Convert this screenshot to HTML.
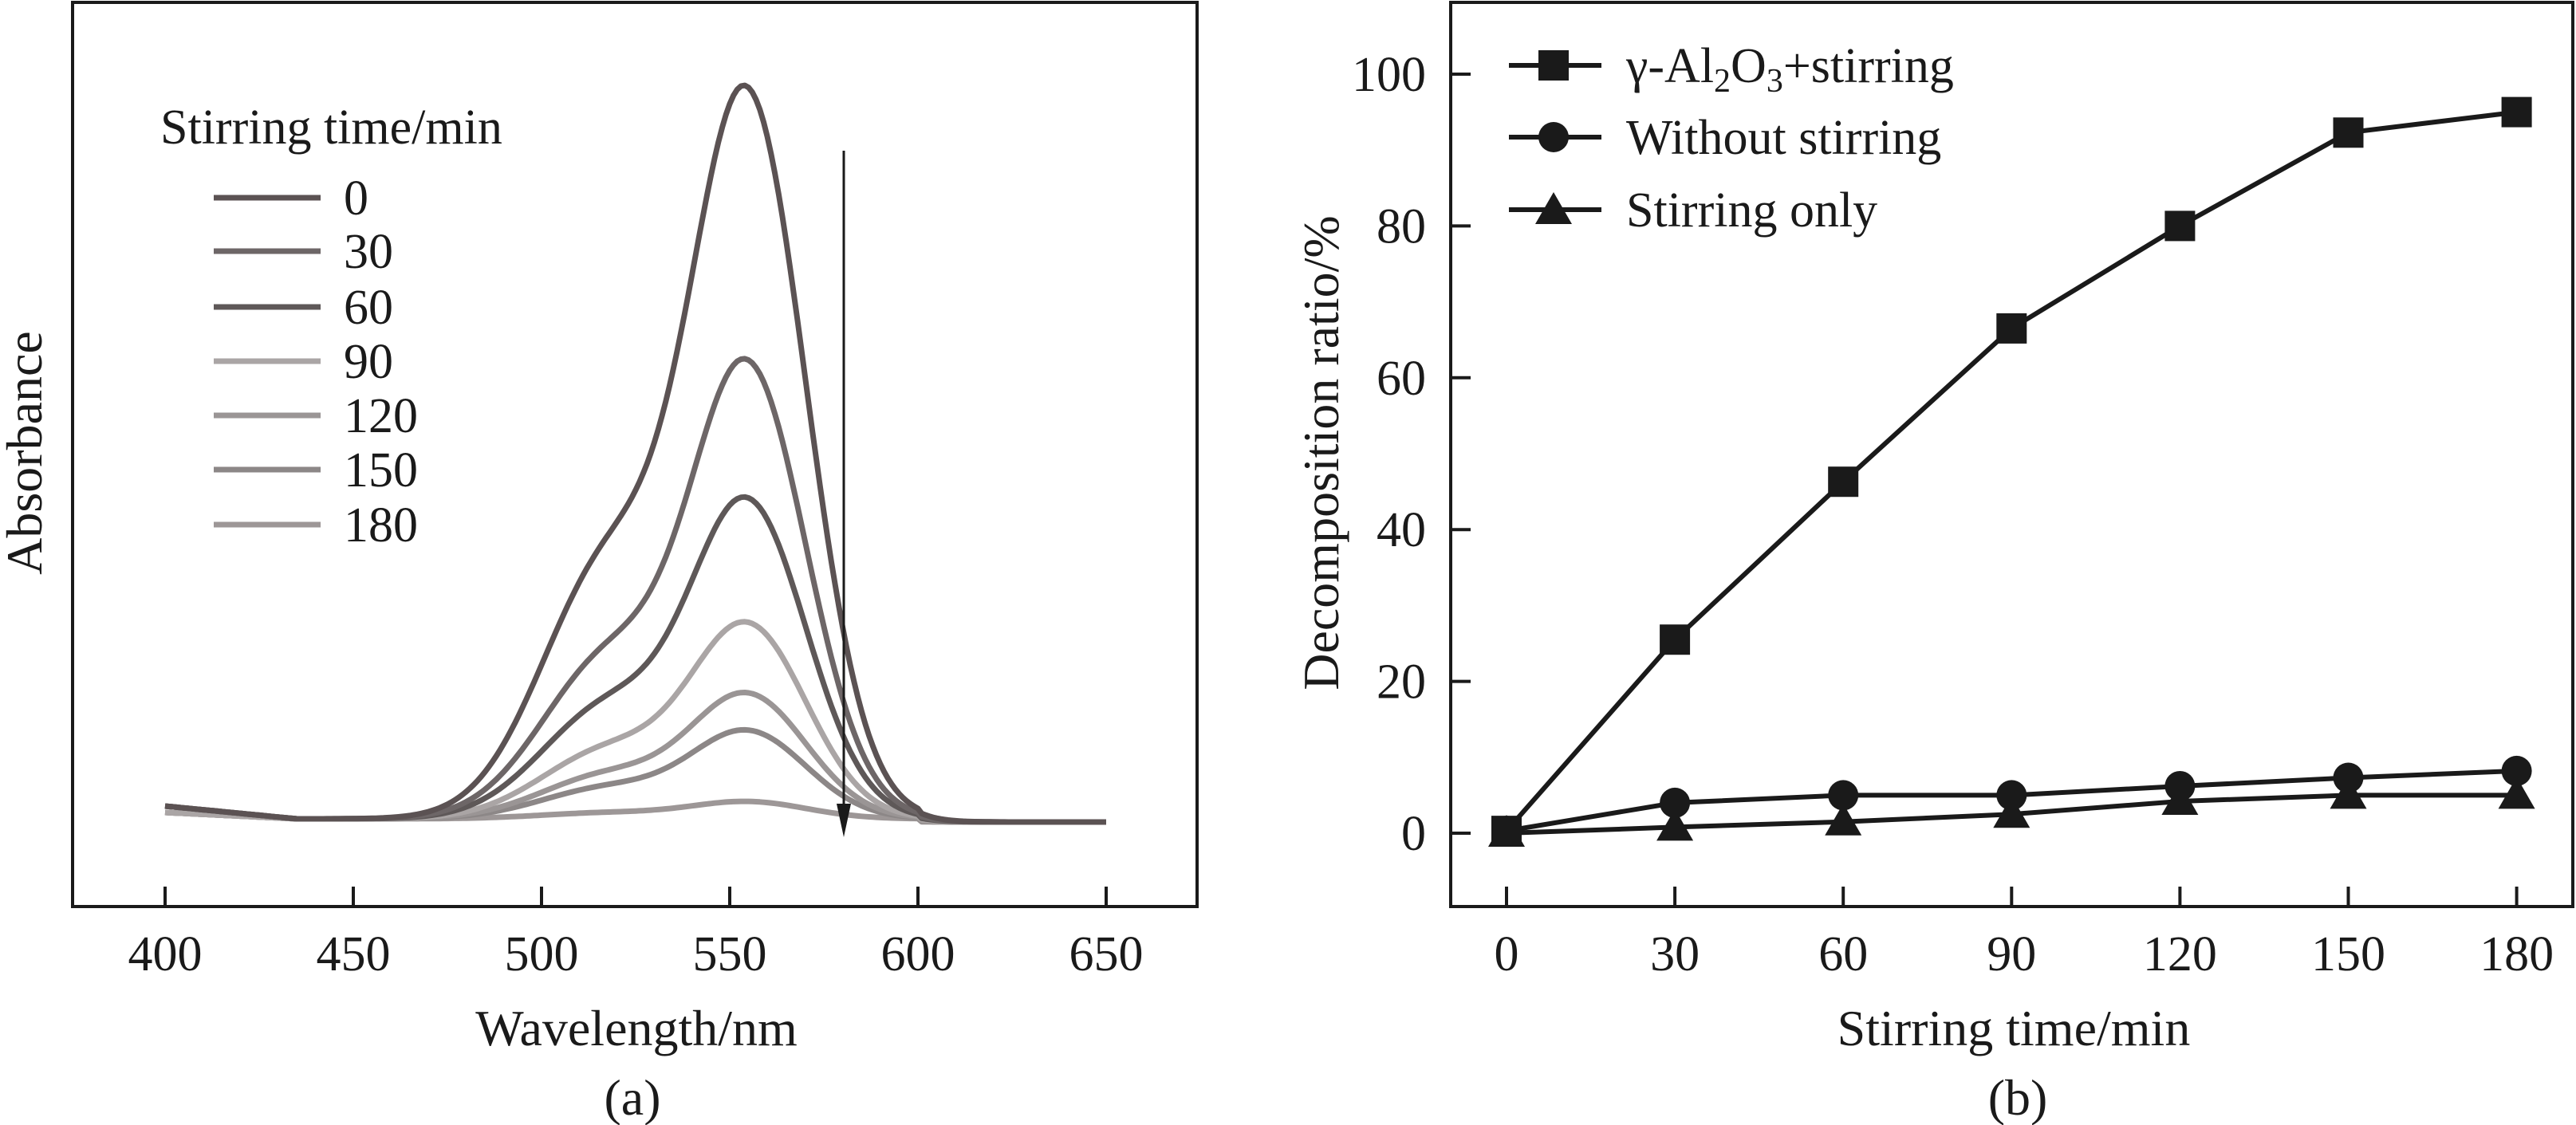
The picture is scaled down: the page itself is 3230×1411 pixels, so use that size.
<!DOCTYPE html>
<html><head><meta charset="utf-8"><style>
html,body{margin:0;padding:0;background:#fff;}
svg{display:block;}
text{font-family:"Liberation Serif",serif;fill:#1a1a1a;}
</style></head><body>
<svg id="s" width="3230" height="1411" viewBox="0 0 3230 1411" xmlns="http://www.w3.org/2000/svg">
<rect width="3230" height="1411" fill="#fff"/>
<rect x="91" y="3" width="1410" height="1134" fill="none" stroke="#1a1a1a" stroke-width="4"/>
<g stroke="#1a1a1a" stroke-width="4">
<line x1="207" y1="1112" x2="207" y2="1137"/><line x1="443" y1="1112" x2="443" y2="1137"/>
<line x1="679" y1="1112" x2="679" y2="1137"/><line x1="915" y1="1112" x2="915" y2="1137"/>
<line x1="1151" y1="1112" x2="1151" y2="1137"/><line x1="1387" y1="1112" x2="1387" y2="1137"/>
</g>
<g font-size="62" text-anchor="middle">
<text x="207" y="1217">400</text><text x="443" y="1217">450</text><text x="679" y="1217">500</text>
<text x="915" y="1217">550</text><text x="1151" y="1217">600</text><text x="1387" y="1217">650</text>
<text x="798" y="1311" font-size="64">Wavelength/nm</text>
<text x="793" y="1398" font-size="64">(a)</text>
<text transform="translate(52,568) rotate(-90)" font-size="64">Absorbance</text>
</g>
<g id="curves" fill="none" stroke-width="7" stroke-linejoin="round"></g>
<text x="201" y="180" font-size="62">Stirring time/min</text>
<g id="leg" stroke-width="7"></g>
<line x1="1058" y1="189" x2="1058" y2="1010" stroke="#1a1a1a" stroke-width="3"/>
<polygon points="1049,1008 1067,1008 1058,1050" fill="#1a1a1a"/>

<path d="M1819,3 H3226 V1137 H1819 Z" fill="none" stroke="#1a1a1a" stroke-width="4"/>
<g id="bt" stroke="#1a1a1a" stroke-width="4"></g>
<g id="bl" font-size="62"></g>
<text x="2525" y="1311" font-size="64" text-anchor="middle">Stirring time/min</text>
<text x="2530" y="1398" font-size="64" text-anchor="middle">(b)</text>
<text transform="translate(1678,568) rotate(-90)" font-size="64" text-anchor="middle">Decomposition ratio/%</text>
<g id="series"></g>
<g font-size="62">
<line x1="1892" y1="82" x2="2008" y2="82" stroke="#1a1a1a" stroke-width="6"/>
<rect x="1929" y="63" width="38" height="38" fill="#1a1a1a"/>
<text x="2039" y="103">γ-Al<tspan font-size="42" dy="12">2</tspan><tspan dy="-12">O</tspan><tspan font-size="42" dy="12">3</tspan><tspan dy="-12">+stirring</tspan></text>
<line x1="1892" y1="172" x2="2008" y2="172" stroke="#1a1a1a" stroke-width="6"/>
<circle cx="1948" cy="172" r="19" fill="#1a1a1a"/>
<text x="2039" y="193">Without stirring</text>
<line x1="1892" y1="263" x2="2008" y2="263" stroke="#1a1a1a" stroke-width="6"/>
<polygon points="1948,241 1971,281 1925,281" fill="#1a1a1a"/>
<text x="2039" y="284">Stirring only</text>
</g>
</svg>
<script>
var NS="http://www.w3.org/2000/svg";
function el(t,a,p){var e=document.createElementNS(NS,t);for(var k in a)e.setAttribute(k,a[k]);p.appendChild(e);return e;}
var H=[923,579,405,248,159,112,22];
var C=["#5b5253","#6d6667","#5e5858","#aaa5a5","#9a9595","#8c8787","#9d9797"];
var labs=["0","30","60","90","120","150","180"];
var ly=[248,315,385,453,521,589,658];
var cg=document.getElementById("curves"),lg=document.getElementById("leg");
for(var i=H.length-1;i>=0;i--){
  var d="";
  for(var l=400;l<=650;l+=1){
    var s=l<555?15:15.5;
    var m=Math.exp(-(l-555)*(l-555)/(2*s*s));
    var sh=Math.exp(-(l-518)*(l-518)/(2*18*18));
    var h=H[i]*(m+0.36*sh)/1.05;
    var base=1027+(l>600?4:0);
    if(l<435) base-= (i<3?16:8)*(435-l)/35;
    var x=207+(l-400)*4.72, y=base-h;
    d+=(l==400?"M":"L")+x.toFixed(1)+","+y.toFixed(1);
  }
  el("path",{d:d,stroke:C[i]},cg);
}
for(var i=0;i<7;i++){
  el("line",{x1:268,x2:402,y1:ly[i],y2:ly[i],stroke:C[i]},lg);
  var t=el("text",{x:431,y:ly[i]+21,"font-size":62,stroke:"none"},lg);t.textContent=labs[i];
}
var bt=document.getElementById("bt"),bl=document.getElementById("bl");
function X(t){return 1889+t/30*211.1;}
function Y(v){return 1045-v*9.52;}
for(var t=0;t<=180;t+=30){
  el("line",{x1:X(t),x2:X(t),y1:1112,y2:1137},bt);
  var e=el("text",{x:X(t),y:1217,"text-anchor":"middle"},bl);e.textContent=t;
}
for(var v=0;v<=100;v+=20){
  el("line",{x1:1819,x2:1844,y1:Y(v),y2:Y(v)},bt);
  var e=el("text",{x:1788,y:Y(v)+21,"text-anchor":"end"},bl);e.textContent=v;
}
var T=[0,30,60,90,120,150,180];
var sq=[0.3,25.5,46.3,66.5,80,92.3,95];
var ci=[0.3,4,5,5,6.2,7.3,8.2];
var tr=[0,0.8,1.5,2.5,4.2,5,5];
var sg=document.getElementById("series");
function pl(a){return T.map(function(t,i){return X(t).toFixed(1)+","+Y(a[i]).toFixed(1)}).join(" ");}
[tr,ci,sq].forEach(function(a){el("polyline",{points:pl(a),fill:"none",stroke:"#1a1a1a","stroke-width":6},sg);});
T.forEach(function(t,i){
  var x=X(t);
  var y=Y(tr[i]);el("polygon",{points:x+","+(y-23)+" "+(x+23)+","+(y+17)+" "+(x-23)+","+(y+17),fill:"#1a1a1a"},sg);
  el("circle",{cx:x,cy:Y(ci[i]),r:19,fill:"#1a1a1a"},sg);
  el("rect",{x:x-19,y:Y(sq[i])-19,width:38,height:38,fill:"#1a1a1a"},sg);
});
</script>
</body></html>
